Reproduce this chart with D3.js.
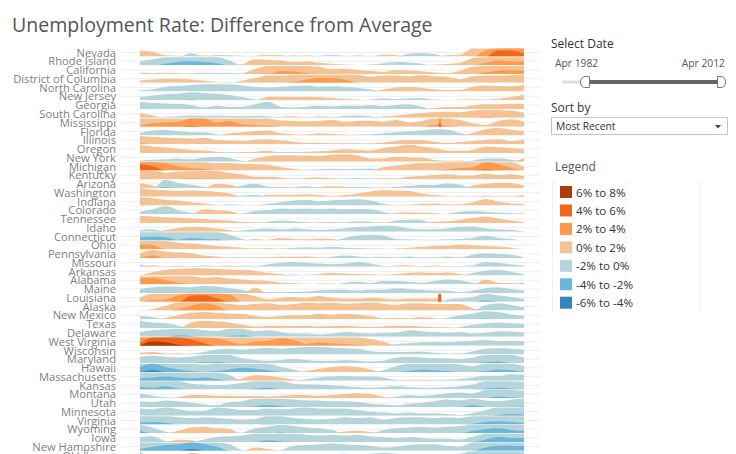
<!DOCTYPE html>
<html><head><meta charset="utf-8">
<script src="https://cdn.jsdelivr.net/npm/d3@7"></script>
<style>body{margin:0;background:#fff;} svg{display:block;font-family:"Open Sans","Noto Sans",sans-serif;}</style>
</head><body><svg id="c" width="736" height="454"></svg>
<script>
// ---- data (difference from national average, percentage points), yearly Apr 1982 .. Apr 2012
const years = [1982,1983,1984,1985,1986,1987,1988,1989,1990,1991,1992,1993,1994,1995,1996,1997,1998,1999,2000,2001,2002,2003,2004,2005,2006,2007,2008,2009,2010,2011,2012];
const states = ["Nevada","Rhode Island","California","District of Columbia","North Carolina","New Jersey","Georgia","South Carolina","Mississippi","Florida","Illinois","Oregon","New York","Michigan","Kentucky","Arizona","Washington","Indiana","Colorado","Tennessee","Idaho","Connecticut","Ohio","Pennsylvania","Missouri","Arkansas","Alabama","Maine","Louisiana","Alaska","New Mexico","Texas","Delaware","West Virginia","Wisconsin","Maryland","Hawaii","Massachusetts","Kansas","Montana","Utah","Minnesota","Virginia","Wyoming","Iowa","New Hampshire","Oklahoma"];

const NV = [1.5,1.2,0.3,0.2,-0.8,0.3,-0.4,-0.3,-0.2,0.2,0.4,0.3,-0.3,0.3,-0.2,-0.4,-0.2,0.3,-0.2,0.5,0.3,-0.7,-0.9,-0.6,0.3,0.5,2.0,3.5,5.5,5.5,4.6];
const RI = [-1.0,-1.5,-2.4,-2.8,-3.0,-2.8,-2.5,-1.2,0.3,1.5,1.3,1.2,0.8,1.0,0.6,0.4,0.2,0.1,-0.2,-0.5,-0.8,-0.7,-0.4,0.2,0.3,0.6,1.8,2.6,3.2,3.0,2.9];
const CA = [0.3,0.2,0.3,0.2,-0.2,-0.3,-0.2,-0.3,0.2,1.3,2.0,2.7,2.6,2.2,1.8,1.2,1.3,1.0,0.8,0.5,1.0,0.9,0.7,0.4,0.2,0.8,1.8,2.4,2.8,3.0,2.8];
const DC = [0.6,0.8,1.0,1.0,0.8,0.5,0.2,-0.2,0.6,1.2,1.8,1.8,2.2,2.8,3.2,3.2,2.8,2.0,1.5,1.8,1.8,1.6,1.9,1.6,1.5,0.9,1.6,1.8,1.8,1.9,2.0];
const NC = [-0.3,-0.6,-1.2,-1.4,-1.6,-1.8,-1.8,-1.8,-1.5,-1.2,-1.0,-1.2,-1.4,-1.5,-1.2,-1.3,-1.2,-0.9,-0.6,0.5,1.0,1.2,0.9,0.6,0.4,0.4,1.2,1.5,1.4,1.3,1.6];
const NJ = [-0.8,-1.2,-1.5,-1.7,-2.2,-1.8,-1.6,-1.3,-0.8,-0.2,0.8,0.9,0.8,0.9,0.8,0.6,0.4,0.2,-0.2,-0.5,-0.3,-0.5,-0.6,-0.2,-0.1,0.2,0.3,0.2,0.4,0.8,1.4];
const GA = [-1.8,-1.5,-1.4,-1.3,-1.0,-0.4,-0.8,-0.5,-0.6,-1.2,-1.8,-0.6,-0.4,-0.6,-0.8,-0.7,-0.9,-0.8,-1.0,-0.7,-1.0,-1.2,-0.6,0.3,0.5,0.5,0.9,1.2,1.2,1.3,1.3];
const SC = [1.2,0.6,-0.3,-0.4,-0.6,-0.5,-0.6,-0.5,-0.4,-0.5,-0.4,0.3,0.4,0.2,0.4,0.2,-0.5,-0.6,-0.4,0.4,0.6,0.9,1.2,1.4,1.5,1.4,1.8,2.3,2.0,1.8,1.3];
const MS = [2.2,2.8,3.0,3.2,4.2,4.0,3.0,3.4,2.6,2.4,2.2,1.5,1.4,1.3,1.4,1.6,1.2,1.4,1.5,1.2,1.6,1.0,1.4,2.4,2.2,1.6,0.8,0.4,1.4,1.8,1.2];
const FL = [-0.6,-1.2,-1.3,-1.0,-0.8,-0.8,-0.3,0.5,0.8,1.0,1.2,0.5,0.3,0.2,0.5,0.4,0.2,-0.2,-0.3,-0.5,-0.8,-1.0,-1.2,-1.5,-1.4,-0.6,0.6,1.5,1.8,1.4,1.1];
const IL = [2.2,1.8,1.6,1.5,1.4,1.6,1.0,0.9,0.8,1.0,1.2,0.9,0.6,0.3,0.4,0.2,0.3,-0.3,0.2,0.4,0.8,1.0,1.0,0.6,0.3,0.5,0.8,1.0,1.2,0.8,1.1];
const OR = [2.0,1.6,1.4,1.0,0.8,0.6,0.3,-0.2,0.2,0.3,0.5,-0.2,-0.3,0.3,0.4,0.6,0.9,0.8,0.6,1.2,1.6,2.0,1.6,1.2,0.6,0.5,0.8,1.6,1.4,1.2,1.0];
const NY = [-0.3,-0.5,-0.6,-0.8,-0.6,-1.0,-1.2,-0.9,-0.2,0.8,1.4,1.6,1.6,1.5,1.4,1.7,1.8,1.5,0.8,0.8,1.2,1.1,1.0,0.4,0.2,0.3,-0.3,-0.8,-0.8,-0.5,0.9];
const MI = [5.5,5.0,3.8,3.0,2.6,2.4,1.8,1.8,1.6,1.6,1.4,0.8,0.4,-0.2,-0.3,-0.4,-0.3,-0.4,-0.5,0.8,1.2,1.6,1.8,1.8,2.2,2.6,2.8,4.3,3.6,2.6,0.8];
const KY = [2.2,2.0,1.6,1.8,2.2,2.1,2.1,1.5,1.2,0.6,0.6,0.4,-0.2,0.3,0.4,0.2,-0.2,-0.3,-0.2,0.3,0.2,0.6,0.8,1.0,1.2,0.9,0.9,1.4,1.0,1.2,0.7];
const AZ = [1.2,0.6,-2.2,-1.2,-0.8,-0.3,1.0,0.8,-0.6,-1.0,-0.3,0.3,-0.2,-0.4,0.2,0.4,0.3,-0.3,-0.2,0.2,-0.3,-0.5,-0.8,-0.7,-1.1,-0.8,0.6,1.0,1.3,1.2,0.6];
const WA = [2.0,1.8,1.6,1.4,1.5,1.4,1.2,0.8,-0.3,-0.4,0.4,0.5,0.5,0.6,0.4,0.2,0.4,0.8,1.3,1.6,1.5,1.4,0.8,0.4,0.2,-0.2,-0.1,0.3,0.2,0.1,0.5];
const IN = [2.2,1.8,1.4,1.2,0.8,0.5,0.2,-0.3,-0.2,0.2,-0.4,-0.8,-1.2,-1.4,-1.0,-1.3,-1.4,-1.5,-1.2,-0.4,0.2,0.2,0.4,0.5,0.3,0.3,0.8,1.6,1.0,0.5,0.4];
const CO = [-0.6,-1.2,-2.0,-1.0,-0.3,1.2,1.0,0.8,-0.2,-0.8,-1.0,-1.4,-1.3,-1.4,-1.3,-1.4,-1.2,-1.3,-1.2,-0.6,0.3,0.5,0.4,0.3,-0.2,-0.6,-0.8,-0.6,-0.4,-0.3,0.3];
const TN = [1.8,1.6,1.4,1.3,1.1,1.0,0.8,0.6,0.3,0.2,-0.3,-0.6,-0.4,-0.2,0.2,0.3,-0.2,-0.4,-0.3,0.2,-0.6,-0.8,-0.7,0.3,0.4,0.8,1.2,1.6,1.1,0.6,0.2];
const ID = [-0.4,-0.6,0.4,0.9,1.2,1.1,0.8,0.4,-0.3,-0.6,-0.8,-0.6,-0.8,-0.6,-0.4,-0.6,-0.8,-1.2,-1.3,-1.5,-1.4,-0.8,-0.6,-0.6,-0.8,-1.2,-1.3,-0.8,-0.6,-0.5,0.1];
const CT = [-2.8,-3.0,-2.8,-2.2,-2.6,-2.4,-2.3,-1.4,-0.4,0.4,0.2,0.6,0.4,0.3,0.5,0.4,-0.6,-1.2,-1.4,-1.2,-0.4,-0.3,-0.2,-0.2,-0.3,-0.4,-0.6,-1.2,-0.6,-0.4,0.0];
const OH = [3.2,3.0,2.0,1.6,1.4,1.2,0.8,0.6,0.4,0.2,0.3,-0.2,-0.4,-0.5,-0.4,-0.6,-0.4,-0.3,-0.2,-0.2,0.2,0.4,0.6,0.8,0.9,1.2,1.0,0.8,0.7,0.4,-0.1];
const PA = [1.2,2.6,1.6,1.4,1.2,0.6,0.4,-0.2,-0.2,0.2,0.2,0.4,0.3,0.4,0.2,-0.3,-0.6,-0.4,-0.2,-0.3,-0.2,-0.4,-0.2,-0.2,-0.4,-0.2,-0.8,-1.2,-1.0,-0.8,-0.2];
const MO = [-0.6,0.4,-0.2,0.3,-0.2,-0.3,0.2,0.3,-0.3,-0.2,-0.6,-1.0,-1.2,-1.0,-0.8,-0.6,-0.8,-1.2,-0.8,-0.2,0.3,0.4,0.2,0.3,0.2,-0.2,-0.4,-1.2,-1.0,-0.6,-0.3];
const AR = [-0.2,0.8,1.4,1.6,1.8,1.8,1.6,1.5,1.4,1.2,0.6,0.4,-0.3,0.2,0.4,0.6,0.5,0.4,0.3,0.2,0.4,0.6,0.8,0.6,0.8,0.4,-0.6,-1.2,-1.4,-0.9,-0.4];
const AL = [3.4,3.6,3.0,2.4,2.0,1.6,1.8,1.4,1.2,1.0,0.8,0.4,0.3,-0.2,0.2,0.2,-0.4,-0.6,-0.3,-0.8,-0.8,-0.6,-0.4,-0.8,-1.2,-1.0,-0.4,1.2,0.4,0.3,-0.5];
const ME = [-1.0,-1.4,-1.6,-1.6,-1.4,-1.8,-1.6,-1.2,-0.8,1.3,-0.3,-0.2,-0.3,-0.4,-0.6,-0.8,-0.8,-0.6,-0.9,-0.8,-1.2,-1.0,-0.8,-0.6,-0.6,-0.2,-0.6,-1.2,-1.4,-1.0,-0.6];
const LA = [1.0,2.4,2.6,3.6,5.5,5.6,4.8,3.8,2.0,1.4,0.6,1.0,1.2,1.0,1.4,1.0,0.8,0.8,1.0,0.8,0.6,0.8,0.8,0.8,-0.6,-0.8,-1.2,-2.4,-1.6,-1.2,-0.7];
const AK = [-0.2,0.4,1.2,2.4,3.2,3.8,3.2,1.6,1.4,1.6,1.8,1.4,1.6,1.9,1.8,1.9,1.7,1.8,1.9,1.7,1.4,1.8,1.8,1.6,1.6,1.6,0.6,-1.4,-1.8,-1.4,-0.8];
const NM = [-0.8,-0.6,0.4,1.0,1.6,1.8,1.6,1.4,1.4,0.8,0.6,0.8,1.0,1.0,1.4,1.2,1.4,1.2,0.8,0.3,0.4,0.3,0.6,0.3,-0.4,-1.0,-1.4,-2.2,-1.8,-1.2,-0.9];
const TX = [-1.8,-1.4,-1.2,-0.6,1.4,1.8,1.6,1.4,0.8,0.4,0.6,0.6,0.5,0.6,0.4,0.5,0.6,0.4,0.3,0.4,0.6,0.6,0.4,0.3,0.2,-0.3,-0.8,-1.2,-1.4,-1.2,-1.0];
const DE = [-1.2,-1.6,-1.8,-2.4,-2.2,-1.6,-1.4,-2.2,-2.4,-1.4,-1.6,-1.2,-0.8,-0.8,-0.6,-0.8,-1.2,-1.0,-0.8,-1.0,-1.0,-1.6,-1.4,-1.2,-1.0,-1.2,-0.8,-1.0,-1.4,-1.3,-1.1];
const WV = [4.5,7.0,6.8,6.2,5.5,4.6,3.8,3.0,2.4,3.0,3.2,3.8,3.4,2.4,2.8,2.5,2.4,2.2,1.6,1.0,-0.4,-0.6,-0.8,-0.9,-0.8,-1.0,-1.2,-1.4,-1.1,-1.2,-1.1];
const WI = [0.4,0.6,0.2,0.3,-0.2,-0.6,-1.2,-1.4,-1.2,-1.4,-1.6,-1.4,-1.6,-1.8,-1.8,-1.6,-1.5,-1.4,-0.8,-0.6,-0.6,-0.6,-0.7,-0.4,-0.2,-0.2,-0.8,-1.4,-1.5,-1.4,-1.2];
const MD = [-1.6,-1.8,-1.6,-1.4,-1.6,-2.2,-2.3,-2.0,-1.2,-0.8,-0.6,-0.8,-1.0,-0.8,-0.6,-0.6,-0.8,-0.6,-0.4,-0.6,-1.4,-1.6,-1.4,-1.2,-1.2,-1.0,-1.4,-2.2,-2.4,-2.0,-1.3];
const HI = [-3.2,-4.4,-3.2,-2.6,-2.2,-1.8,-2.2,-2.6,-3.0,-2.8,-2.4,-1.2,-0.6,0.2,0.8,1.2,1.4,1.2,0.6,-0.4,-1.4,-2.2,-2.6,-2.4,-2.2,-1.8,-1.4,-2.2,-2.6,-2.4,-1.4];
const MA = [-2.6,-2.8,-3.0,-2.8,-2.6,-2.8,-2.4,-1.4,0.6,1.4,1.2,0.8,0.3,-0.4,-0.8,-1.0,-1.2,-1.0,-1.0,-0.8,-0.2,0.2,0.3,-0.2,-0.2,-0.4,-0.8,-1.2,-1.2,-1.6,-1.5];
const KS = [-2.6,-2.4,-2.8,-2.2,-1.4,-1.2,-1.0,-1.2,-1.6,-2.2,-2.4,-2.0,-1.4,-1.2,-1.2,-1.0,-0.8,-0.6,-0.4,-0.6,-0.8,-0.6,-0.4,-0.4,-0.6,-0.8,-1.2,-2.2,-2.4,-2.2,-1.8];
const MT = [-1.2,-0.6,-0.2,0.3,0.8,0.8,0.6,0.6,0.5,0.6,0.4,0.6,0.8,0.8,0.6,0.8,1.0,1.2,1.0,0.4,-0.4,-0.8,-0.6,-0.8,-1.2,-1.4,-1.2,-2.0,-2.4,-2.2,-1.9];
const UT = [-1.4,-1.2,-1.6,-1.4,-1.0,-0.6,-0.4,-1.2,-1.4,-2.2,-2.4,-2.2,-1.8,-1.6,-1.6,-1.4,-1.4,-1.2,-0.8,-0.6,-0.4,-0.8,-1.0,-1.4,-1.8,-1.6,-2.4,-1.6,-1.4,-1.8,-2.2];
const MN = [-1.8,-1.6,-2.0,-1.6,-1.2,-1.2,-2.0,-1.8,-1.4,-1.4,-1.8,-1.6,-1.8,-2.0,-1.8,-1.8,-1.8,-1.4,-1.0,-0.8,-0.6,-0.8,-0.6,-0.6,-0.4,-0.2,-0.6,-1.4,-2.2,-2.4,-2.3];
const VA = [-2.4,-2.6,-2.4,-1.8,-1.6,-1.8,-1.6,-1.4,-1.2,-1.4,-2.2,-2.0,-1.6,-1.4,-1.2,-1.4,-1.8,-1.6,-1.8,-1.2,-1.6,-1.8,-1.8,-1.6,-1.8,-1.6,-2.2,-2.6,-2.8,-2.6,-2.4];
const WY = [-2.6,-1.4,-0.4,0.6,1.4,1.6,1.2,1.0,-0.2,-1.2,-1.6,-2.2,-1.8,-1.4,-1.2,-0.8,0.4,0.6,0.3,-0.8,-1.2,-1.4,-1.6,-1.4,-1.6,-1.8,-2.6,-3.0,-3.2,-2.8,-2.6];
const IA = [-1.2,-1.4,-0.2,0.6,0.4,-0.6,-1.2,-1.4,-1.6,-2.0,-2.4,-2.2,-2.0,-1.8,-1.6,-1.8,-1.6,-1.8,-1.4,-1.2,-1.0,-1.2,-1.0,-0.8,-0.8,-0.6,-1.2,-2.6,-3.2,-3.0,-3.0];
const NH = [-2.4,-3.0,-3.4,-3.6,-4.4,-3.6,-3.0,-1.6,-0.2,0.8,0.4,-0.2,-1.2,-1.4,-1.6,-1.8,-1.6,-1.4,-1.2,-0.8,-1.0,-1.4,-1.6,-1.6,-1.2,-1.0,-2.0,-2.8,-3.2,-3.2,-3.1];
const OK = [-2.0,0.5,-0.2,0.4,1.6,1.2,0.4,-0.4,-0.6,-0.8,-1.0,-1.2,-1.0,-0.8,-1.0,-1.2,-1.4,-1.0,-1.4,-1.6,-1.4,-0.8,-0.6,-0.8,-1.2,-1.4,-2.0,-2.8,-3.0,-3.2,-3.2];
const rowValues = [NV,RI,CA,DC,NC,NJ,GA,SC,MS,FL,IL,OR,NY,MI,KY,AZ,WA,IN,CO,TN,ID,CT,OH,PA,MO,AR,AL,ME,LA,AK,NM,TX,DE,WV,WI,MD,HI,MA,KS,MT,UT,MN,VA,WY,IA,NH,OK];
// short-lived readings (Hurricane Katrina, autumn 2005)
const spikeStates = ["Louisiana","Mississippi"];
const spikeDates  = [[2005.28,2005.33,2005.5,2005.55],[2005.3,2005.36,2005.5,2005.58]];
const spikeValues = [[0.8,6.0,6.0,0.4],[2.4,4.8,4.6,2.3]];

const bandLabels = ["6% to 8%","4% to 6%","2% to 4%","0% to 2%","-2% to 0%","-4% to -2%","-6% to -4%"];
const posColors = ["#f3c396","#fd9a4e","#f0661a","#b03c05"];
const negColors = ["#b6d5db","#6cb6da","#3583bf"];
const dateLabels = ["Apr 1982","Apr 2012"];
const sortOption = "Most Recent";

// ---- drawing
const svg = d3.select("#c");
const x = d3.scaleLinear().domain([1982, 2012]).range([140, 524]);
const pitch = 8.76, nRows = states.length, pad = 0.07;
const y = d3.scaleBand().domain(states).range([48.4, 48.4 + pitch*(nRows - pad)]).paddingInner(pad).paddingOuter(0);
const bw = y.bandwidth();

function fit(sel, w){ const n = sel.node(); const L = n.getComputedTextLength(); const fs = parseFloat(sel.attr("font-size")); sel.attr("font-size", fs*w/L); }

const title = svg.append("text").attr("x", 12).attr("y", 32).attr("font-size", 19).attr("fill", "#555")
  .text("Unemployment Rate: Difference from Average");
fit(title, 421);

// gridlines at row centres
svg.append("g").selectAll("line").data(states).join("line")
  .attr("x1", 121).attr("x2", 540)
  .attr("y1", d => y(d) + bw/2).attr("y2", d => y(d) + bw/2)
  .attr("stroke", "#eeeeee").attr("stroke-width", 1);

const defs = svg.append("defs");
const rowsG = svg.append("g");
states.forEach((s, i) => {
  let pts = years.map((yr, j) => [yr, rowValues[i][j]]);
  const si = spikeStates.indexOf(s);
  if (si >= 0) {
    spikeDates[si].forEach((d, k) => pts.push([d, spikeValues[si][k]]));
    pts.sort((a, b) => a[0] - b[0]);
  }
  const top = y(s), bottom = top + bw;
  defs.append("clipPath").attr("id", "clip" + i).append("rect")
    .attr("x", x.range()[0]).attr("y", top - 1).attr("width", x.range()[1] - x.range()[0]).attr("height", bw + 1);
  const g = rowsG.append("g").attr("clip-path", `url(#clip${i})`);
  const draw = (sign, b, c) => {
    const a = d3.area().x(d => x(d[0])).y0(bottom)
      .y1(d => bottom - Math.min(2, Math.max(0, sign * d[1] - 2*b)) / 2 * bw)
      .curve(d3.curveMonotoneX);
    g.append("path").attr("d", a(pts)).attr("fill", c);
  };
  posColors.forEach((c, b) => draw(1, b, c));
  negColors.forEach((c, b) => draw(-1, b, c));
});

// row labels
const lab = svg.append("g").selectAll("text").data(states).join("text")
  .attr("x", 116).attr("y", d => y(d) + bw/2 + 4.2)
  .attr("text-anchor", "end").attr("font-size", 12).attr("fill", "#808080").text(d => d);
{ const n = lab.filter(d => d === "District of Columbia"); const L = n.node().getComputedTextLength(); lab.attr("font-size", 12*103/L); }

// ---- right panel
svg.append("text").attr("x", 551).attr("y", 47.5).attr("font-size", 12).attr("fill", "#333").text("Select Date");
svg.append("text").attr("x", 555).attr("y", 66.5).attr("font-size", 10.3).attr("fill", "#555").text(dateLabels[0]);
svg.append("text").attr("x", 725).attr("y", 66.5).attr("font-size", 10.3).attr("fill", "#555").attr("text-anchor", "end").text(dateLabels[1]);
svg.append("line").attr("x1", 562).attr("x2", 586).attr("y1", 82).attr("y2", 82).attr("stroke", "#dddddd").attr("stroke-width", 3);
svg.append("line").attr("x1", 588).attr("x2", 718).attr("y1", 82).attr("y2", 82).attr("stroke", "#666").attr("stroke-width", 4);
svg.append("path").attr("d", "M589.5,76.5 L585,76.5 A4.5,5.5 0 0,0 585,87.5 L589.5,87.5 Z").attr("fill", "#fff").attr("stroke", "#777");
svg.append("path").attr("d", "M717.5,76.5 L721,76.5 A4.5,5.5 0 0,1 721,87.5 L717.5,87.5 Z").attr("fill", "#fff").attr("stroke", "#777");

svg.append("text").attr("x", 551).attr("y", 112).attr("font-size", 12).attr("fill", "#333").text("Sort by");
svg.append("rect").attr("x", 551.5).attr("y", 117.5).attr("width", 176).attr("height", 17).attr("fill", "#fff").attr("stroke", "#c4c4c4");
svg.append("text").attr("x", 556).attr("y", 130).attr("font-size", 10.3).attr("fill", "#333").text(sortOption);
svg.append("path").attr("d", "M715,125 L721,125 L718,128.5 Z").attr("fill", "#444");

svg.append("text").attr("x", 555).attr("y", 170.5).attr("font-size", 12).attr("fill", "#555").text("Legend");
[552.5, 625.5, 699.5].forEach(xx => svg.append("line").attr("x1", xx).attr("x2", xx).attr("y1", 181).attr("y2", 312).attr("stroke", "#f0f0f0"));
const legColors = posColors.slice().reverse().concat(negColors);
const leg = svg.append("g").selectAll("g").data(bandLabels).join("g")
  .attr("transform", (d, k) => `translate(560,${186 + k*18.45})`);
leg.append("rect").attr("width", 12).attr("height", 12).attr("fill", (d, k) => legColors[k]);
leg.append("text").attr("x", 16).attr("y", 10.5).attr("font-size", 11.6).attr("fill", "#333").text(d => d);
</script></body></html>
